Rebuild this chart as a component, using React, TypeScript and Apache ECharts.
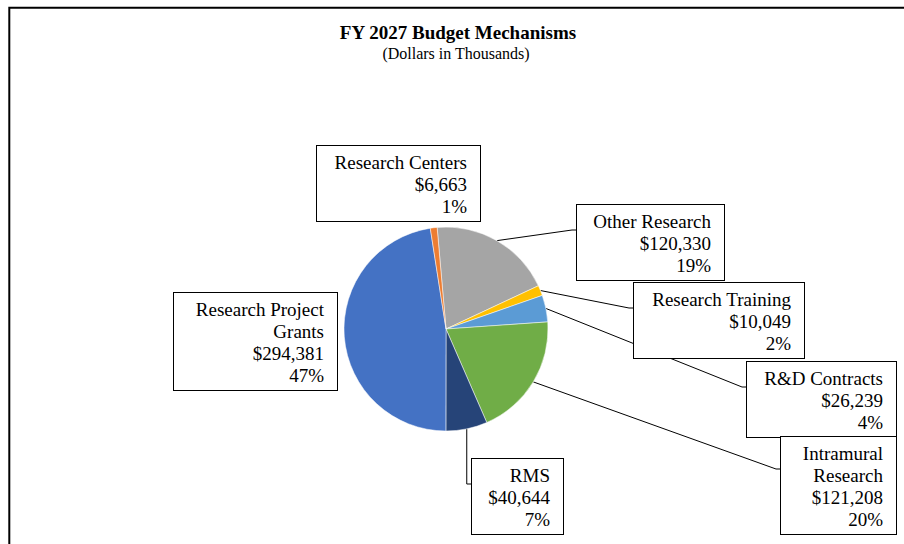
import React, { useEffect, useRef } from "react";
import * as echarts from "echarts";

const categories = [
  "Other Research",
  "Research Training",
  "R&D Contracts",
  "Intramural Research",
  "RMS",
  "Research Project Grants",
  "Research Centers",
];
const values = [120330, 10049, 26239, 121208, 40644, 294381, 6663];
const colors = ["#A5A5A5", "#FFC000", "#5B9BD5", "#70AD47", "#264478", "#4472C4", "#ED7D31"];
const titleText = "FY 2027 Budget Mechanisms";
const subtitleText = "(Dollars in Thousands)";

// layout of the label boxes (left, top, outer width), line attach offset, line style
const boxLayout: Record<string, { l: number; t: number; w: number; link: number | null; elbow?: boolean }> = {
  "Other Research": { l: 577, t: 205, w: 147, link: 25 },
  "Research Training": { l: 634, t: 283, w: 170, link: 25 },
  "R&D Contracts": { l: 747, t: 362, w: 149, link: 25 },
  "Intramural Research": { l: 781, t: 437, w: 115, link: 32 },
  RMS: { l: 472, t: 459, w: 91, link: 25, elbow: true },
  "Research Project Grants": { l: 174, t: 293, w: 163, link: null },
  "Research Centers": { l: 317, t: 146, w: 163, link: null },
};

const PAD_L = 10;
const PAD_R = 13;
const FONT = "'Liberation Serif', 'Times New Roman', serif";
const LABEL_SIZE = 19;

let measureCtx: CanvasRenderingContext2D | null = null;
function wrapWords(text: string, maxWidth: number): string {
  if (!measureCtx) {
    measureCtx = document.createElement("canvas").getContext("2d");
  }
  const ctx = measureCtx;
  if (!ctx) return text;
  ctx.font = `${LABEL_SIZE}px ${FONT}`;
  const words = text.split(" ");
  const lines: string[] = [];
  let cur = "";
  for (const w of words) {
    const trial = cur ? cur + " " + w : w;
    if (cur && ctx.measureText(trial).width > maxWidth) {
      lines.push(cur);
      cur = w;
    } else {
      cur = trial;
    }
  }
  if (cur) lines.push(cur);
  return lines.join("\n");
}

export default function App() {
  const ref = useRef<HTMLDivElement>(null);
  useEffect(() => {
    document.body.style.margin = "0";
    if (!ref.current) return;
    const chart = echarts.init(ref.current, undefined, { renderer: "svg" });
    const data = categories.map((name, i) => ({
      name,
      value: values[i],
      itemStyle: { color: colors[i] },
      labelLine: { show: boxLayout[name].link != null },
    }));
    chart.setOption({
      animation: false,
      backgroundColor: "#ffffff",
      graphic: [
        {
          type: "rect",
          shape: { x: 9.3, y: 7.8, width: 1200, height: 1200 },
          style: { fill: "none", stroke: "#000", lineWidth: 2 },
          silent: true,
        },
        {
          type: "text",
          x: 458,
          y: 32,
          style: {
            text: titleText,
            font: `bold 19px ${FONT}`,
            fill: "#000",
            align: "center",
            verticalAlign: "middle",
          },
        },
        {
          type: "text",
          x: 456,
          y: 53,
          style: {
            text: subtitleText,
            font: `16px ${FONT}`,
            fill: "#000",
            align: "center",
            verticalAlign: "middle",
          },
        },
      ],
      series: [
        {
          type: "pie",
          center: [446, 329],
          radius: 102,
          startAngle: 95,
          clockwise: true,
          percentPrecision: 0,
          avoidLabelOverlap: false,
          emphasis: { disabled: true },
          itemStyle: { borderColor: "#ffffff", borderWidth: 0.5 },
          label: {
            show: true,
            position: "outside",
            fontFamily: FONT,
            fontSize: LABEL_SIZE,
            lineHeight: 22,
            color: "#000",
            align: "right",
            backgroundColor: "#ffffff",
            borderColor: "#000",
            borderWidth: 1,
            padding: [5, PAD_R, 4, PAD_L],
            formatter: (p: any) => {
              const b = boxLayout[p.name];
              const nm = wrapWords(p.name, b.w - PAD_L - PAD_R);
              return `${nm}\n$${Number(p.value).toLocaleString("en-US")}\n${p.percent}%`;
            },
          },
          labelLine: {
            show: true,
            length: 10,
            length2: 10,
            lineStyle: { color: "#000", width: 1 },
          },
          labelLayout: (params: any) => {
            const name = categories[params.dataIndex];
            const b = boxLayout[name];
            const res: any = {
              x: b.l + b.w,
              y: b.t,
              align: "right",
              verticalAlign: "top",
              width: b.w - PAD_L - PAD_R,
            };
            const pts = params.labelLinePoints;
            if (b.link != null && pts) {
              const p0 = pts[0];
              const ly = b.t + b.link;
              res.labelLinePoints = b.elbow
                ? [p0, [p0[0], ly], [b.l, ly]]
                : [p0, [b.l - 5, ly], [b.l, ly]];
            }
            return res;
          },
          data,
        },
      ],
    });
    return () => chart.dispose();
  }, []);
  return <div ref={ref} style={{ width: 904, height: 544, overflow: "hidden" }} />;
}
